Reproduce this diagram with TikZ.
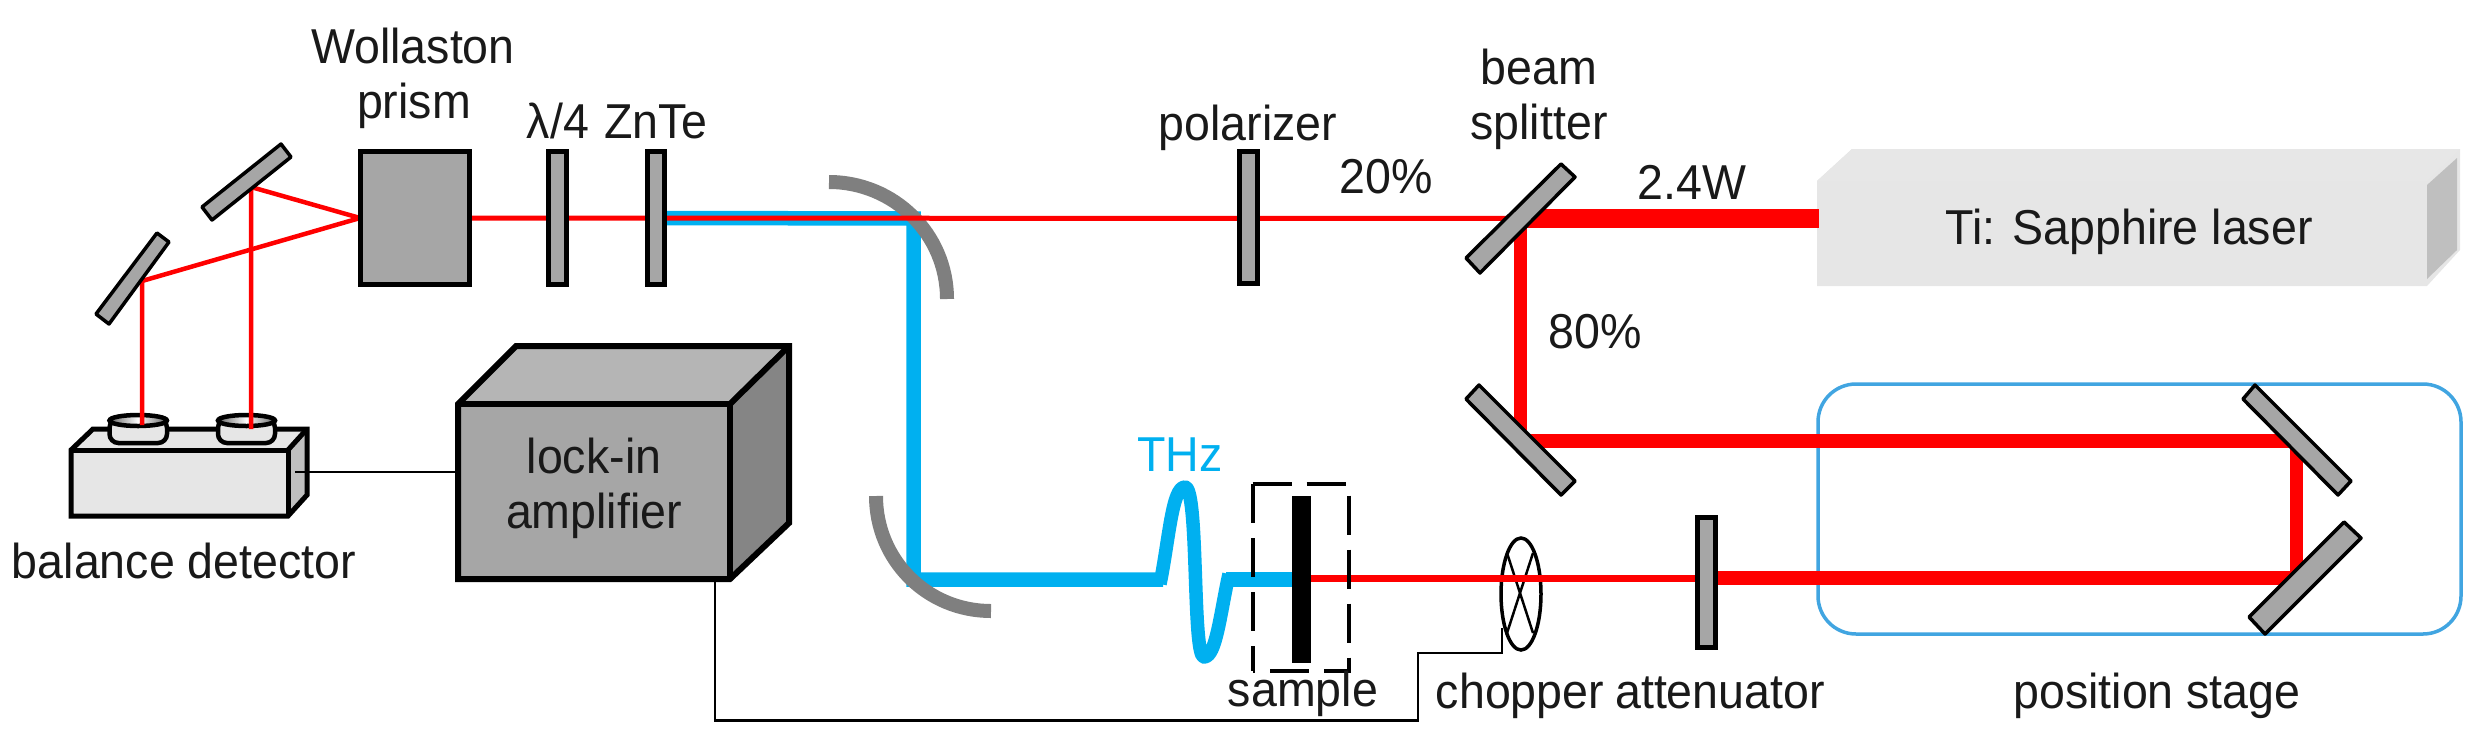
\documentclass[tikz,border=0pt]{standalone}
\usepackage{fontspec}
\setmainfont[FakeStretch=0.95]{Liberation Sans}
\definecolor{plategray}{HTML}{A6A6A6}
\definecolor{arcgray}{HTML}{7F7F7F}
\definecolor{thzblue}{HTML}{00B0F0}
\definecolor{stageblue}{HTML}{41A5E1}
\definecolor{boxlight}{HTML}{E6E6E6}
\tikzset{
  x=1pt,y=-1pt,
  lbl/.style={anchor=base,inner sep=0pt,font=\fontsize{49}{49}\selectfont,text=black!90},
  plate/.style={draw=black,line width=5pt,fill=plategray},
  mirror/.style={draw=black,line width=3.5pt,fill=plategray,line join=round},
  parab/.style={draw=arcgray,line width=14pt},
  redthin/.style={draw=red,line width=5pt},
  redmid/.style={draw=red,line width=7pt},
  redthick/.style={draw=red,line width=14pt},
  redmax/.style={draw=red,line width=19pt},
  redbeam/.style={draw=red,line width=4.5pt,line join=round},
  thzbeam/.style={draw=thzblue,line width=14.5pt,line join=miter},
  wire/.style={draw=black,line width=2.5pt},
  box/.style={draw=black,line width=6pt,line join=miter},
  dbox/.style={draw=black,line width=5pt,line join=miter},
  sampledash/.style={draw=black,line width=4pt,dash pattern=on 39pt off 15pt},
}
\begin{document}
\begin{tikzpicture}
\useasboundingbox (0,0) rectangle (2490,750);
% key coordinates
\coordinate (woll) at (360,218);
\coordinate (m1) at (251,187);
\coordinate (m2) at (142,281);
\coordinate (d1) at (142,425);
\coordinate (d2) at (251,429);
\coordinate (zn) at (667,218);
\coordinate (pm1) at (913.5,218.5);
\coordinate (pm2) at (913.5,579.5);
\coordinate (w1) at (1163,579.5);
\coordinate (w2) at (1226,579.5);
\coordinate (samp) at (1292,579.5);
\coordinate (sampr) at (1311,578);
\coordinate (att) at (1697,578);
\coordinate (m6) at (2296,578);
\coordinate (m5) at (2296,441);
\coordinate (m4) at (1520,441);
\coordinate (bs) at (1520,218.5);
\coordinate (las) at (1819,218.5);
% laser
\fill[boxlight] (1817,181)--(1852,149)--(2460,149)--(2460,250)--(2427,286)--(1817,286)--cycle;
\fill[boxlight!95!white] (1817,181)--(1852,149)--(2460,149)--(2427,181)--cycle;
\fill[black!25] (2427,185)--(2457,158)--(2457,250)--(2427,279)--cycle;
\node[lbl] (laser) at (2129,244) {Ti: Sapphire laser};
% position stage
\draw[draw=stageblue,line width=3.5pt,rounded corners=38pt] (1818,384) rectangle (2461,634);
% THz beam
\draw[thzbeam] (zn) -- (pm1) -- (pm2) -- (w1);
\draw[thzbeam] (w2) -- (samp);
\draw[draw=thzblue,line width=13.5pt,line join=round] (1160,584) .. controls (1169,540) and (1172,487) .. (1185,487) .. controls (1199,487) and (1192,657) .. (1204,657) .. controls (1216,657) and (1220,615) .. (1229,574);
% parabolic mirrors
\draw[parab] (829,182) .. controls (894,182) and (947,234) .. (947,299);
\draw[parab] (876,496) .. controls (876,560) and (927,611) .. (991,611);
% red beams
\draw[redthin] (woll) -- (bs);
\draw[redmid] (sampr) -- (att);
\draw[redmax] (bs) -- (las);
\draw[draw=red,line width=13pt] (bs) -- (m4);
\draw[redthick] (1513.5,441) -- (m5);
\draw[draw=red,line width=13pt] (m5) -- (m6);
\draw[redthick] (att) -- (2302.5,578);
% detector body
\fill[boxlight] (71,450)--(93,429)--(307,429)--(288,450)--cycle;
\fill[black!25] (288,450)--(307,429)--(307,495)--(288,516)--cycle;
\fill[boxlight] (71,450) rectangle (288,516);
\draw[dbox] (71,450)--(93,429)--(307,429)--(307,495)--(288,516)--(71,516)--cycle;
\draw[dbox] (71,450)--(288,450)--(288,516);
\draw[dbox] (288,450)--(307,429);
% photodiode caps
\draw[draw=black,line width=4.5pt,fill=boxlight,rounded corners=9pt] (109.5,419) rectangle (167,443);
\draw[draw=black,line width=4.5pt,left color=black!60,right color=black!60,middle color=white] (138.2,420.5) ellipse [x radius=28.7pt,y radius=5.5pt];
\draw[draw=black,line width=4.5pt,fill=boxlight,rounded corners=9pt] (218,419) rectangle (275,443);
\draw[draw=black,line width=4.5pt,left color=black!60,right color=black!60,middle color=white] (246.5,420.5) ellipse [x radius=28.5pt,y radius=5.5pt];
% beams into the detector
\draw[redbeam] (woll) -- (m1) -- (d2);
\draw[redbeam] (woll) -- (m2) -- (d1);
% signal wires
\coordinate (cabA) at (295,472);
\coordinate (cabB) at (458,472);
\draw[wire] (cabA) -- (cabB);
\coordinate (lockout) at (715,579);
\coordinate (chopin) at (1502,628);
\draw[wire] (lockout) -- (715,720.5) -- (1418,720.5) -- (1418,653) -- (1502,653) -- (chopin);
% lock-in amplifier
\fill[black!29] (458,404)--(516,346)--(789,346)--(730,404)--cycle;
\fill[black!48] (730,404)--(789,346)--(789,523)--(730,579)--cycle;
\fill[plategray] (458,404) rectangle (730,579);
\draw[box] (458,404)--(516,346)--(789,346)--(789,523)--(730,579)--(458,579)--cycle;
\draw[box] (458,404)--(730,404)--(730,579);
\draw[box] (730,404)--(789,346);
\node[lbl] (lock1) at (594,473) {lock-in};
\node[lbl] (lock2) at (594,528) {amplifier};
% plates
\draw[plate] (360,151) rectangle (469,284);
\draw[plate] (548,151) rectangle (566,284);
\draw[plate] (647,151) rectangle (664,284);
\draw[plate] (1239,151) rectangle (1257,283);
\draw[plate] (1697,517) rectangle (1715,647);
% flat mirrors
\draw[mirror] (281,144)--(291,157)--(212,220)--(202,207)--cycle;
\draw[mirror] (157,233)--(169,242)--(109,324)--(96,314)--cycle;
\draw[mirror] (1561,164)--(1575,177)--(1480,273)--(1466,258)--cycle;
\draw[mirror] (1479,385)--(1575,481)--(1561,495)--(1466,399)--cycle;
\draw[mirror] (2255,385)--(2351,481)--(2338,495)--(2243,399)--cycle;
\draw[mirror] (2344,522)--(2361,538)--(2265,634)--(2249,617)--cycle;
% sample
\fill[black] (1292,496) rectangle (1311,663);
\draw[sampledash] (1252.5,484) -- (1349,484) -- (1349,671) -- (1252.5,671);
\draw[sampledash] (1252.5,484) -- (1252.5,671);
% chopper
\draw[draw=black,line width=3.5pt] (1521,594) ellipse [x radius=20pt,y radius=56pt];
\draw[draw=black,line width=2.5pt] (1507,553) -- (1533,633);
\draw[draw=black,line width=2.5pt] (1533,553) -- (1507,633);
\draw[redmid] (1495,578) -- (1546,578);
% labels
\node[lbl] (t1) at (413,63) {Wollaston};
\node[lbl] (t2) at (414,118) {prism};
\node[lbl] (t3) at (558,138) {λ/4};
\node[lbl] (t4) at (656,138) {ZnTe};
\node[lbl] (t5) at (1248,140) {polarizer};
\node[lbl] (t6) at (1386,193) {20\%};
\node[lbl] (t7) at (1539,84) {beam};
\node[lbl] (t8) at (1539,139) {splitter};
\node[lbl] (t9) at (1692,199) {2.4W};
\node[lbl] (t10) at (1595,348) {80\%};
\node[lbl] (t11) at (184,578) {balance detector};
\node[lbl,text=thzblue] (t12) at (1180,471) {THz};
\node[lbl] (t13) at (1303,706) {sample};
\node[lbl] (t14) at (1520,708) {chopper};
\node[lbl] (t15) at (1720,708) {attenuator};
\node[lbl] (t16) at (2157,708) {position stage};
\end{tikzpicture}
\end{document}
